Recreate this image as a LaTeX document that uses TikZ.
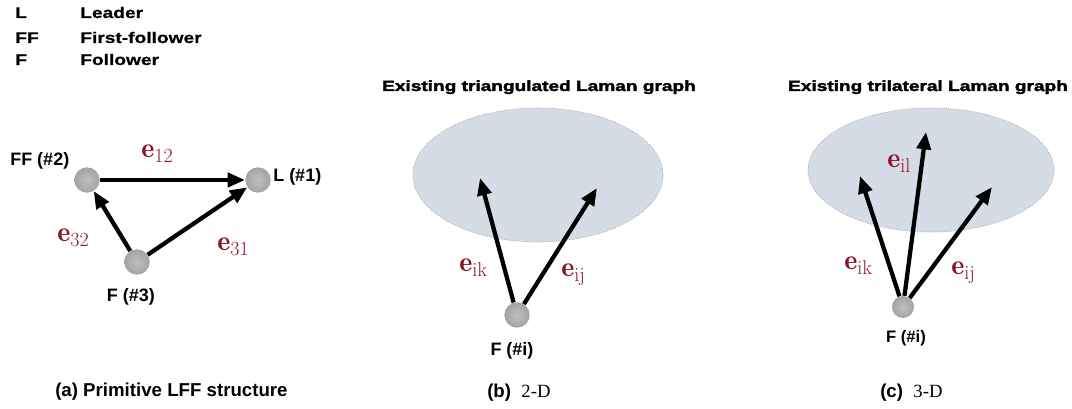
\documentclass[tikz,border=0pt]{standalone}
\usepackage{amsmath}
\usepackage{fontspec}
\setsansfont{Liberation Sans}
\newfontfamily\widefont{Liberation Sans Bold}[FakeStretch=1.25,FakeBold=0.6]
\newfontfamily\titlefont{Liberation Sans Bold}[FakeStretch=1.3,FakeBold=2.4]
\newfontfamily\capserif{Liberation Serif}
\usepackage{xcolor}
\usetikzlibrary{arrows.meta, positioning, calc}
\definecolor{ered}{RGB}{140,20,40}
\definecolor{lamanfill}{RGB}{214,220,229}
\newcommand{\evec}[1]{$\mathbf{e}_{\text{\fontsize{15}{15}\selectfont #1}}$}

\begin{document}
\begin{tikzpicture}[x=0.75pt, y=-0.75pt,
    agent/.style={circle, minimum size=19pt, inner sep=0pt, shading=radial, inner color=gray!50, outer color=gray!72},
    link/.style={line width=3.2pt, -{Triangle[length=13pt, width=10.5pt]}},
    elab/.style={anchor=base west, inner sep=0pt, text=ered, font=\fontsize{21}{23}\selectfont},
    nlab/.style={anchor=base, inner sep=0pt, font=\sffamily\bfseries\fontsize{13.5}{16}\selectfont},
    leg/.style={anchor=base west, inner sep=0pt, font=\widefont\fontsize{11.5}{14}\selectfont},
    ttl/.style={anchor=base, inner sep=0pt, font=\titlefont\fontsize{11}{13}\selectfont},
    figcap/.style={anchor=base west, inner sep=0pt, font=\sffamily\bfseries\fontsize{14}{16}\selectfont},
    laman/.style={fill=lamanfill, draw=gray!70, densely dotted, line width=0.6pt}]
    \useasboundingbox (0,0) rectangle (1072,409);

    % Legend
    \foreach \y/\ab/\nm in {18/L/Leader, 43/FF/First-follower, 65/F/Follower} {
        \node[leg] (ab\ab) at (15,\y) {\ab};
        \node[leg] (nm\ab) at (80,\y) {\nm};
    }

    % (a) primitive structure
    \node[agent] (ff) at (87,180) {};
    \node[agent] (ld) at (258,180) {};
    \node[agent] (fl) at (137,262) {};
    \node[nlab, anchor=base west] (ffl) at (10,166) {FF (\#2)};
    \node[nlab, anchor=base west] (ldl) at (273,182) {L (\#1)};
    \node[nlab] (fll) at (131,302) {F (\#3)};
    \draw[link] (ff) -- (ld);
    \draw[link] (fl) -- (ff);
    \draw[link] (fl) -- (ld);
    \node[elab] (e12) at (141,158) {\evec{12}};
    \node[elab] (e32) at (57,242) {\evec{32}};
    \node[elab] (e31) at (217,251) {\evec{31}};

    % (b) 2-D
    \node[ttl] (tb) at (539,91) {Existing triangulated Laman graph};
    \draw[laman] (538,175) ellipse [x radius=125, y radius=67];
    \node[agent] (fb) at (517,315) {};
    \node[nlab] (fbl) at (512,356) {F (\#i)};
    \coordinate (bk) at (480,178);
    \coordinate (bj) at (597,188);
    \draw[link] (fb) -- (bk);
    \draw[link] (fb) -- (bj);
    \node[elab] (eik) at (459,272) {\evec{ik}};
    \node[elab] (eij) at (561,277) {\evec{ij}};

    % (c) 3-D
    \node[ttl] (tc) at (928,91) {Existing trilateral Laman graph};
    \draw[laman] (931,170) ellipse [x radius=123, y radius=62];
    \node[agent, minimum size=16.5pt] (fc) at (903,307) {};
    \node[nlab, font=\sffamily\bfseries\fontsize{12.5}{15}\selectfont] (fcl) at (906,343) {F (\#i)};
    \coordinate (ck) at (860,176);
    \coordinate (cl) at (926,132);
    \coordinate (cj) at (992,187);
    \draw[link] (fc) -- (ck);
    \draw[link] (fc) -- (cl);
    \draw[link] (fc) -- (cj);
    \node[elab] (cil) at (887,168) {\evec{il}};
    \node[elab] (cik) at (844,270) {\evec{ik}};
    \node[elab] (cij) at (951,275) {\evec{ij}};

    % Captions
    \node[figcap] (ca) at (55,397) {(a) Primitive LFF structure};
    \node[figcap] (cb) at (487,398) {(b)\ \ {\capserif\mdseries 2-D}};
    \node[figcap] (cc) at (880,398) {(c)\ \ {\capserif\mdseries 3-D}};
\end{tikzpicture}
\end{document}
